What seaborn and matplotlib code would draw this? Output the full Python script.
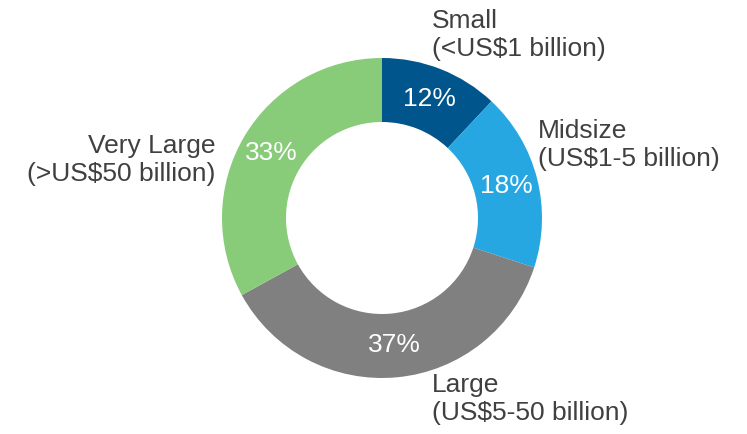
import matplotlib
matplotlib.use("Agg")
import matplotlib.pyplot as plt
import seaborn as sns

categories = ["Small", "Midsize", "Large", "Very Large"]
label_texts = ["Small\n(<US$1 billion)", "Midsize\n(US$1-5 billion)",
               "Large\n(US$5-50 billion)", "Very Large\n(>US$50 billion)"]
shares = [12, 18, 37, 33]
colors = ["#00558C", "#26A7E1", "#808080", "#88CC7A"]

sns.set_theme(style="white")
plt.rcParams['font.family'] = ['Liberation Sans', 'DejaVu Sans']

W, H = 747, 434
fig = plt.figure(figsize=(W / 100, H / 100), dpi=100)
ax = fig.add_axes([0, 0, 1, 1])

wedges, texts, autotexts = ax.pie(
    shares, colors=colors, startangle=90, counterclock=False,
    center=(382, H - 218), radius=160, frame=True,
    wedgeprops=dict(width=64, edgecolor="none"),
    autopct="%d%%", pctdistance=0.8,
    textprops=dict(color="white", fontsize=19))
ax.set_xlim(0, W)
ax.set_ylim(0, H)
ax.set_aspect("equal")
ax.axis("off")

# outside labels: (x, y from top, ha)
label_pos = [(432, 35, "left"), (538, 145, "left"), (432, 399, "left"), (215, 160, "right")]
for txt, (x, y, ha) in zip(label_texts, label_pos):
    ax.text(x, H - y, txt, ha=ha, va="center", multialignment=ha,
            fontsize=19, color="#404040", linespacing=1.25)

fig.savefig("out.png", dpi=100)
